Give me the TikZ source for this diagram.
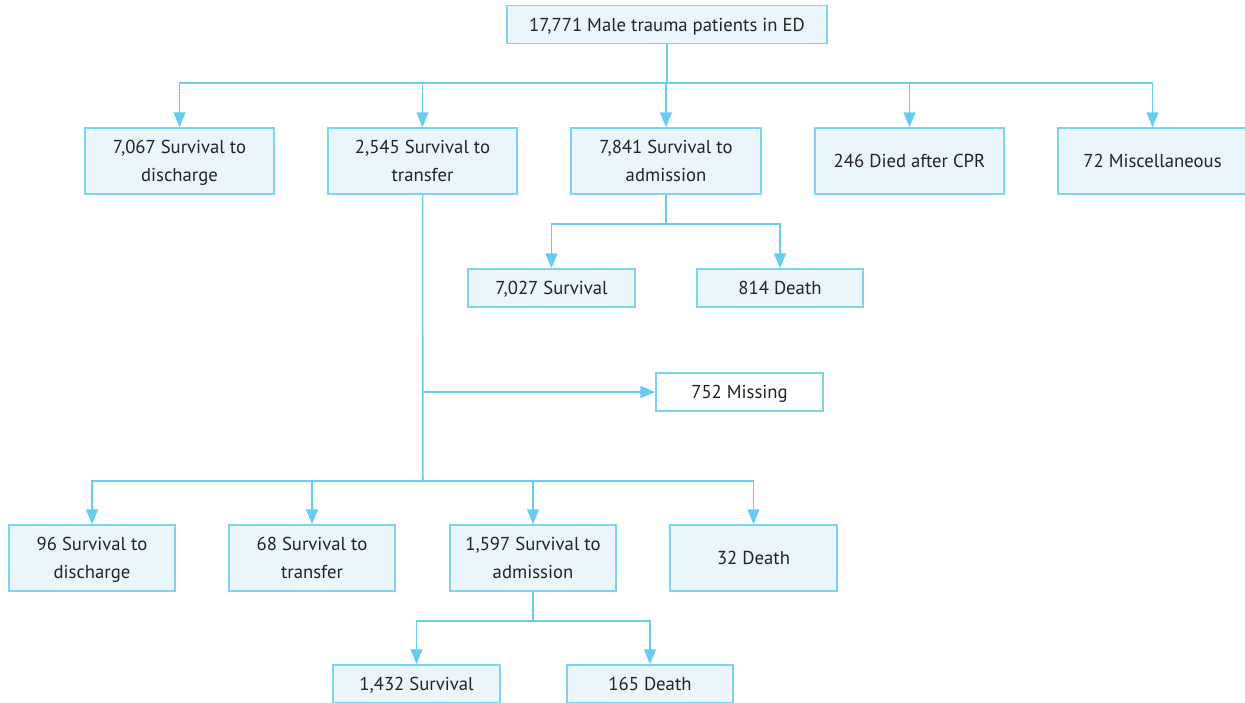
\documentclass[tikz,border=0pt]{standalone}
\usepackage{fontspec}
\setmainfont{PT Sans}
\usetikzlibrary{arrows.meta}
\definecolor{lineblue}{RGB}{104,204,240}
\definecolor{boxborder}{RGB}{125,211,240}
\definecolor{boxfill}{RGB}{234,246,252}
\definecolor{txt}{RGB}{35,35,35}
\begin{document}
\begin{tikzpicture}[x=1pt,y=-1pt,
  box/.style={draw=boxborder,fill=boxfill,line width=1.5pt,inner sep=0pt,align=center,
    text=txt,font=\fontsize{18.7}{28}\selectfont,minimum height=38pt,text depth=0pt},
  tall/.style={minimum height=66pt},
  conn/.style={draw=lineblue,line width=1.5pt},
  arr/.style={conn,-{Triangle[length=15pt,width=12pt]}}]
\useasboundingbox (0,0) rectangle (1245,702);
\node[box,minimum width=320pt] (top) at (667,24.5) {17,771 Male trauma patients in ED};
\node[box,tall,minimum width=189pt] (a1) at (179.5,161) {7,067 Survival to\\discharge};
\node[box,tall,minimum width=189pt] (a2) at (422.5,161) {2,545 Survival to\\transfer};
\node[box,tall,minimum width=190pt] (a3) at (666,161) {7,841 Survival to\\admission};
\node[box,tall,minimum width=189pt] (a4) at (909.5,161) {246 Died after CPR};
\node[box,tall,minimum width=189pt] (a5) at (1152.5,161) {72 Miscellaneous};
\node[box,minimum width=167pt] (b1) at (551.5,288) {7,027 Survival};
\node[box,minimum width=166pt] (b2) at (780,288) {814 Death};
\node[box,fill=white,minimum width=167pt] (miss) at (739.5,392) {752 Missing};
\node[box,tall,minimum width=166pt] (c1) at (92,558) {96 Survival to\\discharge};
\node[box,tall,minimum width=166pt] (c2) at (312,558) {68 Survival to\\transfer};
\node[box,tall,minimum width=166pt] (c3) at (533,558) {1,597 Survival to\\admission};
\node[box,tall,minimum width=167pt] (c4) at (753.5,558) {32 Death};
\node[box,minimum width=167pt] (d1) at (416.5,684) {1,432 Survival};
\node[box,minimum width=166pt] (d2) at (650,684) {165 Death};
% top fan-out
\coordinate (j0) at (667,83);
\draw[conn] (top.south) -- (j0);
\foreach \n in {a1,a2,a3,a4,a5}{\draw[arr] (j0) -| (\n.north);}
% admission split
\coordinate (j1) at (666,224);
\draw[conn] (a3.south) -- (j1);
\foreach \n in {b1,b2}{\draw[arr] (j1) -| (\n.north);}
% transfer branch
\coordinate (j2) at (a2.south |- miss);
\coordinate (j3) at (423,481);
\draw[conn] (a2.south) -- (j3);
\draw[arr] (j2) -- (miss.west);
\foreach \n in {c1,c2,c3,c4}{\draw[arr] (j3) -| (\n.north);}
% bottom split
\coordinate (j4) at (533,621);
\draw[conn] (c3.south) -- (j4);
\foreach \n in {d1,d2}{\draw[arr] (j4) -| (\n.north);}
\end{tikzpicture}
\end{document}
